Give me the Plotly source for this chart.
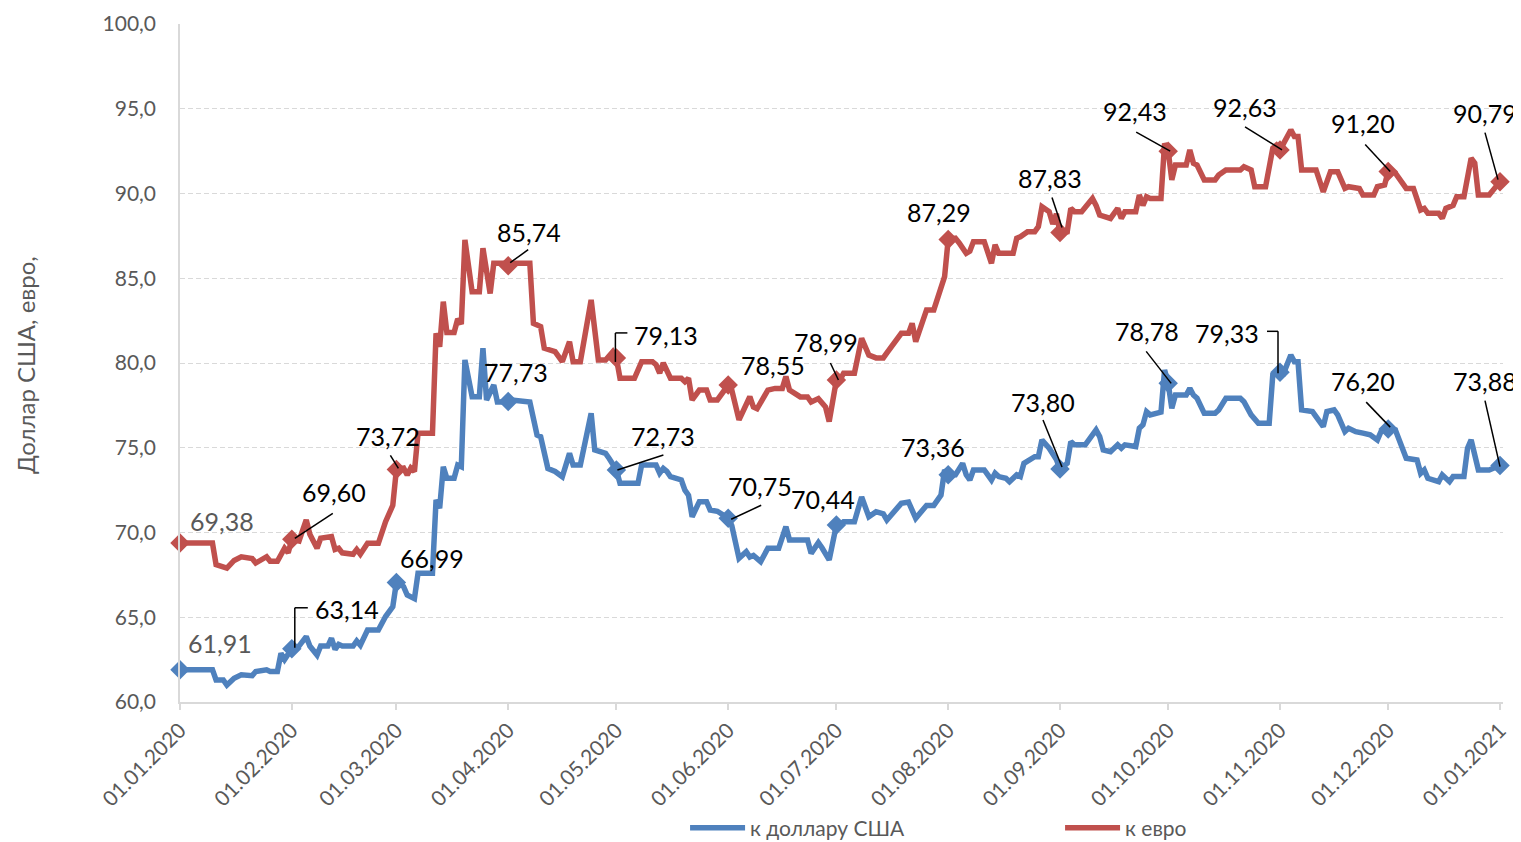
import plotly.graph_objects as go

# ---------------- data ----------------
eur_dates = [
    "2020-01-01", "2020-01-10", "2020-01-11", "2020-01-14", "2020-01-16", "2020-01-18", "2020-01-21",
    "2020-01-22", "2020-01-25", "2020-01-26", "2020-01-28", "2020-01-30", "2020-01-31",
    "2020-02-01", "2020-02-03", "2020-02-05", "2020-02-06", "2020-02-08", "2020-02-09", "2020-02-12",
    "2020-02-13", "2020-02-14", "2020-02-15", "2020-02-18", "2020-02-19", "2020-02-20", "2020-02-22",
    "2020-02-25", "2020-02-27", "2020-02-29",
    "2020-03-01", "2020-03-03", "2020-03-04", "2020-03-05", "2020-03-06", "2020-03-07", "2020-03-11",
    "2020-03-12", "2020-03-13", "2020-03-14", "2020-03-15", "2020-03-17", "2020-03-18", "2020-03-19",
    "2020-03-20", "2020-03-22", "2020-03-24", "2020-03-25", "2020-03-27", "2020-03-28", "2020-03-31",
    "2020-04-01", "2020-04-02", "2020-04-07", "2020-04-08", "2020-04-10", "2020-04-11", "2020-04-14",
    "2020-04-16", "2020-04-18", "2020-04-19", "2020-04-21", "2020-04-24", "2020-04-26", "2020-04-28",
    "2020-04-30",
    "2020-05-01", "2020-05-02", "2020-05-06", "2020-05-08", "2020-05-11", "2020-05-12", "2020-05-13",
    "2020-05-14", "2020-05-16", "2020-05-19", "2020-05-20", "2020-05-21", "2020-05-22", "2020-05-24",
    "2020-05-26", "2020-05-27", "2020-05-29",
    "2020-06-01", "2020-06-02", "2020-06-04", "2020-06-07", "2020-06-08", "2020-06-09", "2020-06-12",
    "2020-06-14", "2020-06-16", "2020-06-17", "2020-06-18", "2020-06-21", "2020-06-23", "2020-06-24",
    "2020-06-26", "2020-06-28", "2020-06-29",
    "2020-07-01", "2020-07-02", "2020-07-03", "2020-07-06", "2020-07-08", "2020-07-10", "2020-07-12",
    "2020-07-14", "2020-07-15", "2020-07-19", "2020-07-21", "2020-07-22", "2020-07-23", "2020-07-26",
    "2020-07-28", "2020-07-30", "2020-07-31",
    "2020-08-01", "2020-08-03", "2020-08-04", "2020-08-06", "2020-08-07", "2020-08-08", "2020-08-11",
    "2020-08-13", "2020-08-14", "2020-08-15", "2020-08-19", "2020-08-20", "2020-08-21", "2020-08-23",
    "2020-08-25", "2020-08-26", "2020-08-27", "2020-08-29", "2020-08-30", "2020-08-31",
    "2020-09-01", "2020-09-03", "2020-09-04", "2020-09-05", "2020-09-07", "2020-09-10", "2020-09-11",
    "2020-09-12", "2020-09-15", "2020-09-17", "2020-09-18", "2020-09-19", "2020-09-22", "2020-09-23",
    "2020-09-24", "2020-09-25", "2020-09-26", "2020-09-29", "2020-09-30",
    "2020-10-01", "2020-10-02", "2020-10-03", "2020-10-06", "2020-10-07", "2020-10-08", "2020-10-09",
    "2020-10-11", "2020-10-14", "2020-10-15", "2020-10-17", "2020-10-21", "2020-10-22", "2020-10-24",
    "2020-10-25", "2020-10-28", "2020-10-30", "2020-10-31",
    "2020-11-01", "2020-11-02", "2020-11-04", "2020-11-05", "2020-11-06", "2020-11-07", "2020-11-11",
    "2020-11-13", "2020-11-15", "2020-11-17", "2020-11-19", "2020-11-20", "2020-11-23", "2020-11-24",
    "2020-11-27", "2020-11-28", "2020-11-30",
    "2020-12-01", "2020-12-03", "2020-12-06", "2020-12-08", "2020-12-10", "2020-12-11", "2020-12-12",
    "2020-12-15", "2020-12-16", "2020-12-17", "2020-12-19", "2020-12-20", "2020-12-22", "2020-12-24",
    "2020-12-25", "2020-12-26", "2020-12-29", "2020-12-31", "2021-01-01",
]
eur_values = [
    69.38, 69.38, 68.10, 67.90, 68.35, 68.57, 68.47, 68.20, 68.57, 68.30, 68.30, 69.07, 68.80,
    69.60, 69.50, 70.74, 69.90, 69.07, 69.66, 69.76, 69.00, 69.07, 68.80, 68.72, 69.00, 68.72, 69.36,
    69.36, 70.64, 71.60,
    73.72, 73.80, 73.40, 73.80, 73.60, 75.85, 75.85, 81.75, 80.96, 83.62, 81.80, 81.80, 82.60, 82.30,
    87.26, 84.20, 84.20, 86.77, 84.10, 85.88, 85.88,
    85.74, 85.88, 85.88, 82.34, 82.15, 80.87, 80.67, 80.08, 81.26, 80.08, 80.08, 83.72, 80.18, 80.18,
    80.67,
    80.30, 79.10, 79.10, 80.08, 80.08, 79.90, 79.40, 80.00, 79.10, 79.10, 78.90, 79.10, 77.82, 78.40,
    78.40, 77.82, 77.82,
    78.70, 78.40, 76.64, 78.01, 77.40, 77.30, 78.40, 78.50, 78.50, 79.20, 78.40, 78.00, 78.00, 77.70,
    77.90, 77.40, 76.54,
    79.00, 79.00, 79.40, 79.40, 81.45, 80.47, 80.30, 80.30, 80.60, 81.75, 81.75, 82.34, 81.26, 83.13,
    83.13, 84.31, 85.09,
    87.29, 87.36, 87.10, 86.47, 86.60, 87.16, 87.16, 85.88, 86.97, 86.47, 86.47, 87.36, 87.45, 87.75,
    87.75, 88.04, 89.22, 88.93, 88.20, 88.80,
    87.70, 87.75, 89.12, 88.93, 88.93, 89.71, 89.30, 88.73, 88.53, 89.12, 88.53, 88.93, 88.93, 89.91,
    89.30, 89.81, 89.71, 89.71, 92.96,
    92.50, 90.80, 91.68, 91.68, 92.57, 91.78, 91.68, 90.80, 90.80, 91.09, 91.39, 91.39, 91.58, 91.39,
    90.40, 90.40, 92.67, 92.85,
    92.57, 92.96, 93.75, 93.36, 93.36, 91.39, 91.39, 90.10, 91.29, 91.29, 90.30, 90.40, 90.30, 89.91,
    89.91, 90.40, 90.50,
    91.30, 91.20, 90.30, 90.30, 89.03, 89.12, 88.83, 88.83, 88.53, 89.12, 89.30, 89.81, 89.81, 92.08,
    91.80, 89.91, 89.91, 90.40, 90.70,
]

usd_dates = [
    "2020-01-01", "2020-01-10", "2020-01-11", "2020-01-13", "2020-01-14", "2020-01-16", "2020-01-18",
    "2020-01-21", "2020-01-22", "2020-01-25", "2020-01-26", "2020-01-28", "2020-01-29", "2020-01-30",
    "2020-02-01", "2020-02-03", "2020-02-05", "2020-02-06", "2020-02-08", "2020-02-09", "2020-02-11",
    "2020-02-12", "2020-02-13", "2020-02-14", "2020-02-15", "2020-02-18", "2020-02-19", "2020-02-20",
    "2020-02-22", "2020-02-25", "2020-02-27", "2020-02-29",
    "2020-03-01", "2020-03-03", "2020-03-04", "2020-03-06", "2020-03-07", "2020-03-11", "2020-03-12",
    "2020-03-13", "2020-03-14", "2020-03-15", "2020-03-17", "2020-03-18", "2020-03-19", "2020-03-20",
    "2020-03-22", "2020-03-24", "2020-03-25", "2020-03-26", "2020-03-28", "2020-03-29", "2020-03-31",
    "2020-04-01", "2020-04-02", "2020-04-07", "2020-04-08", "2020-04-09", "2020-04-10", "2020-04-12",
    "2020-04-14", "2020-04-16", "2020-04-18", "2020-04-19", "2020-04-21", "2020-04-24", "2020-04-25",
    "2020-04-28", "2020-04-29",
    "2020-05-01", "2020-05-02", "2020-05-07", "2020-05-08", "2020-05-12", "2020-05-13", "2020-05-14",
    "2020-05-15", "2020-05-16", "2020-05-19", "2020-05-20", "2020-05-21", "2020-05-22", "2020-05-24",
    "2020-05-26", "2020-05-27", "2020-05-29",
    "2020-06-01", "2020-06-02", "2020-06-04", "2020-06-06", "2020-06-07", "2020-06-08", "2020-06-10",
    "2020-06-12", "2020-06-15", "2020-06-17", "2020-06-18", "2020-06-23", "2020-06-24", "2020-06-26",
    "2020-06-27", "2020-06-29",
    "2020-07-01", "2020-07-02", "2020-07-03", "2020-07-06", "2020-07-08", "2020-07-10", "2020-07-12",
    "2020-07-14", "2020-07-15", "2020-07-16", "2020-07-19", "2020-07-21", "2020-07-23", "2020-07-26",
    "2020-07-28", "2020-07-30", "2020-07-31",
    "2020-08-01", "2020-08-03", "2020-08-05", "2020-08-06", "2020-08-07", "2020-08-08", "2020-08-11",
    "2020-08-13", "2020-08-14", "2020-08-15", "2020-08-17", "2020-08-18", "2020-08-20", "2020-08-21",
    "2020-08-22", "2020-08-25", "2020-08-26", "2020-08-27", "2020-08-29", "2020-08-30", "2020-08-31",
    "2020-09-01", "2020-09-03", "2020-09-04", "2020-09-05", "2020-09-08", "2020-09-11", "2020-09-12",
    "2020-09-13", "2020-09-15", "2020-09-17", "2020-09-18", "2020-09-19", "2020-09-22", "2020-09-23",
    "2020-09-24", "2020-09-25", "2020-09-26", "2020-09-29", "2020-09-30",
    "2020-10-01", "2020-10-02", "2020-10-03", "2020-10-06", "2020-10-07", "2020-10-08", "2020-10-09",
    "2020-10-11", "2020-10-14", "2020-10-15", "2020-10-17", "2020-10-21", "2020-10-22", "2020-10-24",
    "2020-10-26", "2020-10-29", "2020-10-30",
    "2020-11-01", "2020-11-02", "2020-11-04", "2020-11-05", "2020-11-06", "2020-11-07", "2020-11-10",
    "2020-11-11", "2020-11-13", "2020-11-14", "2020-11-16", "2020-11-17", "2020-11-19", "2020-11-20",
    "2020-11-22", "2020-11-24", "2020-11-26", "2020-11-28", "2020-11-29",
    "2020-12-01", "2020-12-03", "2020-12-06", "2020-12-09", "2020-12-10", "2020-12-11", "2020-12-12",
    "2020-12-15", "2020-12-16", "2020-12-17", "2020-12-18", "2020-12-19", "2020-12-22", "2020-12-23",
    "2020-12-24", "2020-12-26", "2020-12-29", "2021-01-01",
]
usd_values = [
    61.91, 61.91, 61.30, 61.30, 61.00, 61.40, 61.60, 61.55, 61.80, 61.90, 61.80, 61.80, 62.87, 62.50,
    63.14, 63.30, 63.86, 63.30, 62.77, 63.30, 63.30, 63.76, 63.10, 63.40, 63.30, 63.30, 63.60, 63.35,
    64.25, 64.25, 65.04, 65.63,
    67.05, 66.80, 66.31, 66.10, 67.60, 67.60, 71.92, 71.43, 73.88, 73.20, 73.20, 73.98, 73.88, 80.18,
    78.01, 78.01, 80.87, 77.82, 78.70, 77.70, 77.70,
    77.73, 77.82, 77.70, 76.64, 75.75, 75.65, 73.78, 73.60, 73.29, 74.67, 73.98, 73.98, 77.03, 74.87,
    74.67, 74.37,
    73.69, 72.90, 72.90, 73.98, 73.98, 73.50, 73.78, 73.60, 73.29, 73.10, 72.50, 72.20, 70.93, 71.82,
    71.82, 71.33, 71.25,
    70.84, 70.40, 68.48, 68.87, 68.55, 68.65, 68.28, 69.07, 69.07, 70.34, 69.56, 69.56, 68.77, 69.40,
    69.10, 68.38,
    70.44, 70.44, 70.64, 70.64, 72.10, 70.93, 71.23, 71.10, 70.74, 71.00, 71.72, 71.80, 70.84, 71.60,
    71.60, 72.20, 73.69,
    73.40, 73.40, 74.08, 73.40, 73.10, 73.69, 73.69, 73.10, 73.50, 73.30, 73.20, 73.00, 73.40, 73.30,
    74.08, 74.47, 74.47, 75.46, 74.97, 74.60, 74.30,
    73.75, 74.08, 75.36, 75.17, 75.17, 76.05, 75.66, 74.87, 74.77, 75.17, 74.97, 75.17, 75.07, 76.15,
    76.35, 77.13, 76.94, 77.10, 79.59,
    78.80, 77.33, 78.11, 78.11, 78.50, 78.11, 77.92, 77.03, 77.03, 77.23, 77.92, 77.92, 77.72, 76.94,
    76.44, 76.44, 79.29,
    79.45, 79.39, 80.47, 80.07, 80.07, 77.23, 77.13, 76.84, 76.25, 77.13, 77.23, 76.94, 75.95, 76.15,
    75.95, 75.86, 75.76, 75.46, 75.95,
    76.10, 76.05, 74.38, 74.28, 73.49, 73.69, 73.20, 73.00, 73.40, 73.20, 73.00, 73.30, 73.30, 74.97,
    75.46, 73.69, 73.69, 73.95,
]

marker_dates = [
    "2020-01-01", "2020-02-01", "2020-03-01", "2020-04-01", "2020-05-01", "2020-06-01", "2020-07-01",
    "2020-08-01", "2020-09-01", "2020-10-01", "2020-11-01", "2020-12-01", "2021-01-01",
]
usd_labels = ["61,91", "63,14", "66,99", "77,73", "72,73", "70,75", "70,44",
              "73,36", "73,80", "78,78", "79,33", "76,20", "73,88"]
eur_labels = ["69,38", "69,60", "73,72", "85,74", "79,13", "78,55", "78,99",
              "87,29", "87,83", "92,43", "92,63", "91,20", "90,79"]

series_names = ["к доллару США", "к евро"]
y_title = "Доллар США, евро,"
y_ticks = [60, 65, 70, 75, 80, 85, 90, 95, 100]

assert len(eur_dates) == len(eur_values)
assert len(usd_dates) == len(usd_values)

# ---------------- style ----------------
BLUE = "#4f81bd"
RED = "#c0504d"
GRID = "#d9d9d9"
TXT = "#595959"
FONT = "Lato"

# label offsets in px relative to marker (dx right, dy down)
eur_label_off = [(42, -22), (42, -47), (-8, -33), (21, -34), (50, -23), (45, -20), (-10, -38),
                 (-9, -27), (-10, -54), (-33, -40), (-35, -43), (-25, -48), (-15, -69)]
usd_label_off = [(40, -27), (55, -40), (36, -25), (8, -29), (47, -34), (32, -32), (-13, -26),
                 (-15, -28), (-17, -67), (-21, -52), (-53, -39), (-25, -48), (-15, -85)]
eur_leaders = [[], [(3, -1, 41, -26)], [(-6, -14, 2, -1)], [(2, -3, 20, -16)],
               [(-1, 4, -1, -25), (-1, -25, 11, -25)], [], [(-6, -17, 2, 0)], [],
               [(-8, -35, 2, -5)], [(-32, -19, 2, 0)], [(-35, -23, 2, 0)], [(-23, -27, 2, 0)],
               [(-15, -49, -2, -2)]]
usd_leaders = [[], [(3, -1, 3, -41), (3, -41, 16, -41)], [], [], [(1, 0, 47, -15)],
               [(3, 1, 33, -13)], [], [], [(-17, -49, 2, -2)], [(-22, -32, 3, 0)],
               [(-13, -41, -2, -41), (-2, -41, -2, 1)], [(-22, -27, 2, -2)], [(-15, -65, 0, 1)]]

usd_lookup = dict(zip(usd_dates, usd_values))
eur_lookup = dict(zip(eur_dates, eur_values))
usd_marker_vals = [usd_lookup[d] for d in marker_dates]
eur_marker_vals = [eur_lookup[d] for d in marker_dates]

fig = go.Figure()
fig.add_trace(go.Scatter(x=usd_dates, y=usd_values, mode="lines", name=series_names[0],
                         line=dict(color=BLUE, width=5.5)))
fig.add_trace(go.Scatter(x=eur_dates, y=eur_values, mode="lines", name=series_names[1],
                         line=dict(color=RED, width=5.5)))
fig.add_trace(go.Scatter(x=marker_dates, y=usd_marker_vals, mode="markers", showlegend=False,
                         cliponaxis=False,
                         marker=dict(symbol="diamond", size=15, color=BLUE)))
fig.add_trace(go.Scatter(x=marker_dates, y=eur_marker_vals, mode="markers", showlegend=False,
                         cliponaxis=False,
                         marker=dict(symbol="diamond", size=15, color=RED)))

annotations = []
shapes = []
for labels, vals, offs, leaders in [(eur_labels, eur_marker_vals, eur_label_off, eur_leaders),
                                     (usd_labels, usd_marker_vals, usd_label_off, usd_leaders)]:
    for i, (d, v, t) in enumerate(zip(marker_dates, vals, labels)):
        dx, dy = offs[i]
        annotations.append(dict(
            x=d, y=v, xref="x", yref="y", text=t, showarrow=False,
            xshift=dx, yshift=-dy, xanchor="center", yanchor="middle",
            font=dict(family=FONT, size=25, color=TXT if i == 0 else "#000000"),
        ))
        for (x0, y0, x1, y1) in leaders[i]:
            shapes.append(dict(
                type="line", xref="x", yref="y", xsizemode="pixel", ysizemode="pixel",
                xanchor=d, yanchor=v, x0=x0, x1=x1, y0=-y0, y1=-y1,
                line=dict(color="#000000", width=1.5), layer="above",
            ))

annotations.append(dict(
    x=-0.1172, y=0.497, xref="paper", yref="paper", text=y_title, showarrow=False,
    textangle=-90, xanchor="center", yanchor="middle",
    font=dict(family=FONT, size=24, color=TXT),
))

fig.update_layout(
    width=1513, height=834,
    margin=dict(l=172, r=18, t=16, b=140, autoexpand=False),
    plot_bgcolor="white", paper_bgcolor="white",
    separators=", ",
    font=dict(family=FONT, color=TXT, size=21),
    annotations=annotations,
    shapes=shapes,
    showlegend=True,
    legend=dict(orientation="h", xref="container", yref="container",
                x=0.4475, xanchor="left", y=0.0168, yanchor="middle",
                font=dict(family=FONT, size=21, color=TXT),
                entrywidth=305, entrywidthmode="pixels", itemwidth=55,
                bgcolor="rgba(0,0,0,0)"),
    xaxis=dict(
        type="date", range=["2020-01-01", "2021-01-01 20:00"],
        tickformat="%d.%m.%Y", dtick="M1", tick0="2020-01-01", tickangle=-45,
        ticks="outside", ticklen=6, tickcolor=GRID, tickwidth=1.5,
        showline=True, linecolor=GRID, linewidth=1.5, showgrid=False, zeroline=False,
        tickfont=dict(family=FONT, size=21, color=TXT),
    ),
    yaxis=dict(
        range=[60, 100], tickvals=y_ticks, tickformat=".1f",
        showgrid=True, gridcolor=GRID, griddash="5px,3px", gridwidth=1,
        showline=True, linecolor=GRID, linewidth=1.5, zeroline=False,
        ticks="", ticklabelstandoff=18,
        tickfont=dict(family=FONT, size=21, color=TXT),
    ),
)

fig.write_html("out.html")
